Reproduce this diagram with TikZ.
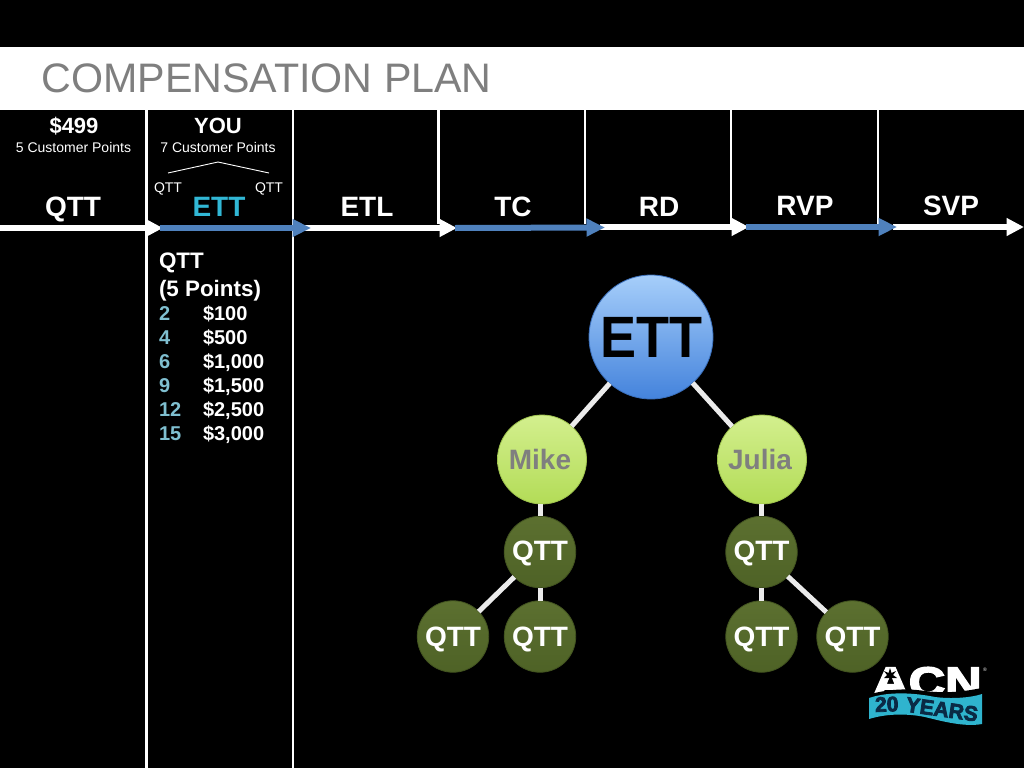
\documentclass[tikz,border=0pt]{standalone}
\usepackage{fontspec}
\setmainfont{Liberation Sans}
\newfontfamily\logofont[FakeBold=3.5]{Liberation Sans}
\usetikzlibrary{arrows.meta}
\definecolor{titlegrey}{HTML}{7F7F7F}
\definecolor{flowblue}{HTML}{4F81BD}
\definecolor{ettcyan}{HTML}{31B7D5}
\definecolor{numcyan}{HTML}{7FBFD0}
\definecolor{logoteal}{HTML}{2FB4CE}
\definecolor{logonavy}{HTML}{0A2A45}
\definecolor{ballA}{HTML}{A6CEFA}
\definecolor{ballB}{HTML}{4483DC}
\definecolor{nameA}{HTML}{D3EF8E}
\definecolor{nameB}{HTML}{B3DC57}
\definecolor{qttA}{HTML}{5C7030}
\definecolor{qttB}{HTML}{4E6226}
\newcommand{\fsz}[1]{\fontsize{#1}{#1}\selectfont}
\tikzset{
  x=1pt,y=-1pt,
  txt/.style={inner sep=0pt,outer sep=0pt,anchor=base,text=white},
  head/.style={txt,font=\fsz{22}\bfseries},
  small/.style={txt,font=\fsz{14}},
  rank/.style={txt,font=\fsz{28}\bfseries},
  listh/.style={txt,anchor=base west,font=\fsz{22.4}\bfseries},
  listn/.style={txt,anchor=base west,font=\fsz{20}\bfseries,text=numcyan},
  lista/.style={txt,anchor=base west,font=\fsz{20}\bfseries},
  divider/.style={draw=white,line width=2.4pt},
  whitearrow/.style={draw=white,line width=6pt,-{Triangle[length=17.5pt,width=17pt,fill=white]}},
  bluearrow/.style={draw=flowblue,line width=6pt,-{Triangle[length=18.5pt,width=17pt,fill=flowblue]}},
  link/.style={draw=white!92!black,line width=5pt},
  ball/.style={circle,inner sep=0pt,outer sep=0pt,font=\bfseries},
  ettball/.style={ball,minimum size=124pt,top color=ballA,bottom color=ballB,draw=ballB!85!black,line width=.8pt,
     text=black,font=\fsz{54}\bfseries,text height=41pt,text depth=0pt},
  nameball/.style={ball,minimum size=89pt,top color=nameA,bottom color=nameB,draw=nameB!88!black,line width=.8pt,
     text=titlegrey,font=\fsz{28}\bfseries,text height=20pt,text depth=1pt},
  qttball/.style={ball,minimum size=71.5pt,top color=qttA,bottom color=qttB,draw=qttB!85!black,line width=.8pt,
     text=white,font=\fsz{28}\bfseries,text height=20pt,text depth=#1},
  qttball/.default=0pt
}
\begin{document}
\begin{tikzpicture}
\useasboundingbox (0,0) rectangle (1024,768);
\fill[black] (0,0) rectangle (1024,768);
\fill[white] (0,47) rectangle (1024,110);
\node[txt,anchor=base west,text=titlegrey,font=\fsz{41.2}] (title) at (41.5,92) {COMPENSATION PLAN};

% column dividers
\coordinate (d1t) at (146.5,110); \coordinate (d1b) at (146.5,768);
\coordinate (d2t) at (293,110);   \coordinate (d2b) at (293,768);
\coordinate (d3t) at (438.5,110); \coordinate (d3b) at (438.5,224);
\coordinate (d4t) at (585,110);   \coordinate (d4b) at (585,224);
\coordinate (d5t) at (731,110);   \coordinate (d5b) at (731,224);
\coordinate (d6t) at (878,110);   \coordinate (d6b) at (878,224);
\foreach \i in {1,...,6} \draw[divider] (d\i t) -- (d\i b);

% flow arrows
\coordinate (a0) at (0,228);
\coordinate (a1) at (163,228);
\coordinate (a1s) at (160,228);
\coordinate (a2) at (311,228);
\coordinate (a2s) at (293,228);
\coordinate (a3) at (457,228);
\coordinate (a3s) at (455,228);
\coordinate (a4) at (605,227.5);
\coordinate (a4s) at (600,227);
\coordinate (a5) at (749,227);
\coordinate (a5s) at (746,227);
\coordinate (a6) at (897,227);
\coordinate (a6s) at (893,227);
\coordinate (a7) at (1024,227);
\draw[whitearrow] (a0) -- (a1);
\draw[whitearrow] (a2s) -- (a3);
\draw[whitearrow] (a4s) -- (a5);
\draw[whitearrow] (a6s) -- (a7);
\draw[bluearrow] (a1s) -- (a2);
\draw[bluearrow] (a3s) -- (a4);
\draw[bluearrow] (a5s) -- (a6);

% column headers
\node[head] (price) at (74,133) {\$499};
\node[small] (pts5) at (73.5,152) {5 Customer Points};
\node[head] (you) at (218,133) {YOU};
\node[small] (pts7) at (218,152) {7 Customer Points};
\node[small] (qa) at (168,192) {QTT};
\node[small] (qb) at (269,192) {QTT};
\coordinate (peak) at (218,162);
\coordinate (pl) at (168,173);
\coordinate (pr) at (269,173);
\draw[white,line width=.9pt] (pl) -- (peak) -- (pr);

\node[rank] (r1) at (73,216) {QTT};
\node[rank,text=ettcyan] (r2) at (219,216) {ETT};
\node[rank] (r3) at (367,216) {ETL};
\node[rank] (r4) at (513,216) {TC};
\node[rank] (r5) at (659,216) {RD};
\node[rank] (r6) at (805,215.5) {RVP};
\node[rank] (r7) at (951,215.5) {SVP};

% list
\node[listh] (l1) at (159,268) {QTT};
\node[listh] (l2) at (159,296) {(5 Points)};
\foreach \numv/\amt/\ypos in {2/{\$100}/320,4/{\$500}/344,6/{\$1,000}/368,9/{\$1,500}/392,12/{\$2,500}/416,15/{\$3,000}/440}{
  \node[listn] (n\numv) at (159,\ypos) {\numv};
  \node[lista] (v\numv) at (203,\ypos) {\amt};
}

% tree
\node[ettball] (ett) at (651,337) {\scalebox{1}[1.08]{ETT}};
\node[nameball] (mike) at (542,459.5) {Mike\kern4pt\relax};
\node[nameball] (julia) at (762,459.5) {Julia\kern4pt\relax};
\node[qttball=4pt] (q1) at (540,552) {QTT};
\node[qttball=4pt] (q2) at (761.5,552) {QTT};
\node[qttball] (q3) at (453,636.5) {QTT};
\node[qttball] (q4) at (540,636.5) {QTT};
\node[qttball] (q5) at (761.5,636.5) {QTT};
\node[qttball] (q6) at (852.5,636.5) {QTT};
\draw[link] (ett) -- (mike);
\draw[link] (ett) -- (julia);
\draw[link] (q1 |- mike.south) -- (q1);
\draw[link] (q2 |- julia.south) -- (q2);
\draw[link] (q1) -- (q3);
\draw[link] (q1) -- (q4);
\draw[link] (q2) -- (q5);
\draw[link] (q2) -- (q6);

% logo
\node[txt,font=\logofont\fsz{42}\bfseries] (acn) at (927,696.5) {\scalebox{1.2}[1]{ACN}};
\fill[black] (860,697) .. controls (885,689) and (905,688) .. (925,691)
   .. controls (950,694) and (970,691) .. (995,685) -- (995,705) -- (860,705) -- cycle;
\fill[logoteal] (869,698) .. controls (890,691) and (915,693) .. (935,697)
   .. controls (950,699) and (970,698) .. (982,694)
   -- (982,724) .. controls (965,727) and (945,722) .. (925,717)
   .. controls (905,713) and (885,714) .. (869,719) -- cycle;
\fill[black] (890,668) -- (891.5,673) -- (896,671) -- (893,675) -- (897,678) -- (884,678) -- (887,675) -- (884,671) -- (888.5,673) -- cycle;
\node[txt,text=logonavy,font=\logofont\fsz{21}\bfseries,rotate=2] (l20) at (887,711.5) {20};
\node[txt,text=logonavy,font=\logofont\fsz{21}\bfseries,rotate=-8] (lyears) at (941,716.5) {YEARS};
\node[txt,font=\fsz{5}] (lreg) at (985,671) {®};
\end{tikzpicture}
\end{document}
